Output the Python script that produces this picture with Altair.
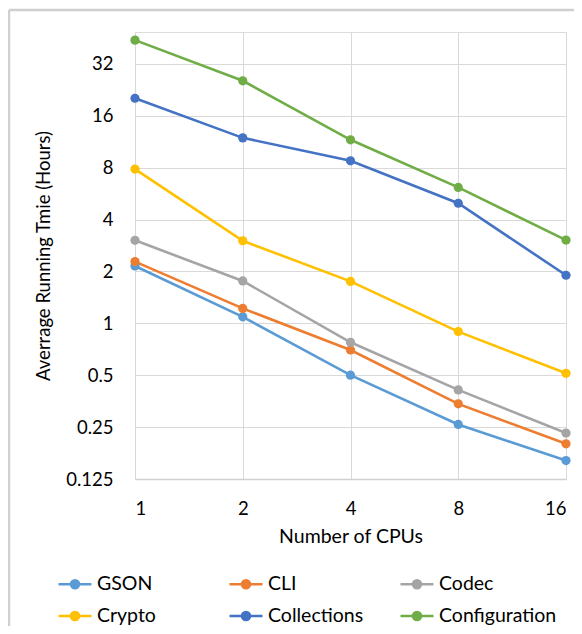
import altair as alt
import pandas as pd

cpus = [1, 2, 4, 8, 16]
series_names = ["GSON", "CLI", "Codec", "Crypto", "Collections", "Configuration"]
gson = [2.15, 1.09, 0.50, 0.259, 0.160]
cli = [2.28, 1.22, 0.70, 0.341, 0.200]
codec = [3.03, 1.76, 0.776, 0.411, 0.231]
crypto = [7.84, 3.01, 1.75, 0.895, 0.513]
collections = [20.2, 11.9, 8.76, 4.97, 1.90]
configuration = [43.9, 25.5, 11.6, 6.14, 3.04]
colors = ["#5B9BD5", "#ED7D31", "#A5A5A5", "#FFC000", "#4472C4", "#70AD47"]
y_ticks = [0.125, 0.25, 0.5, 1, 2, 4, 8, 16, 32]

values = [gson, cli, codec, crypto, collections, configuration]
rows = []
for name, vals in zip(series_names, values):
    for c, v in zip(cpus, vals):
        rows.append({"cpus": c, "hours": v, "series": name})
df = pd.DataFrame(rows)

FONT = "Lato"
W, H = 431, 447
ymax = 2 ** (-3 + 447 / 51.9)

x = alt.X("cpus:Q", scale=alt.Scale(type="log", base=2, domain=[1, 16]),
          axis=alt.Axis(values=cpus, title="Number of CPUs", grid=True,
                        gridColor="#D9D9D9", gridWidth=1, domainColor="#D0D0D0",
                        domainWidth=1.5, ticks=False, labelPadding=20,
                        labelFontSize=18.5, titleFontSize=19.5, titlePadding=10,
                        labelFont=FONT, titleFont=FONT, labelColor="#000000",
                        titleColor="#000000", titleFontWeight="normal",
                        labelExpr="datum.value + ''"))
y = alt.Y("hours:Q", scale=alt.Scale(type="log", base=2, domain=[0.125, ymax]),
          axis=alt.Axis(values=y_ticks, title="Averrage Running Tmie (Hours)",
                        grid=True, gridColor="#D9D9D9", gridWidth=1, domain=False,
                        ticks=False, labelPadding=22, labelFontSize=18.5,
                        titleFontSize=18.5, titlePadding=12, labelFont=FONT,
                        titleFont=FONT, labelColor="#000000", titleColor="#000000",
                        titleFontWeight="normal", labelExpr="datum.value + ''"))
color = alt.Color("series:N", scale=alt.Scale(domain=series_names, range=colors),
                  legend=alt.Legend(
                      title=None, orient="none", legendX=-78, legendY=534,
                      direction="horizontal",
                      columns=3, gridAlign="all", columnPadding=9, rowPadding=4,
                      symbolType="M-1,0L1,0M-0.25,0A0.25,0.25,0,1,0,0.25,0A0.25,0.25,0,1,0,-0.25,0",
                      symbolSize=1089, symbolStrokeWidth=2.4, labelOffset=4,
                      labelFontSize=19.5, labelFont=FONT, labelColor="#000000"))

lines = alt.Chart(df).mark_line(strokeWidth=2.6).encode(x=x, y=y, color=color)
points = alt.Chart(df).mark_circle(size=85, opacity=1).encode(x=x, y=y, color=color)

frame_df = pd.DataFrame({"k": [0]})
top_line = alt.Chart(frame_df).mark_rule(color="#D0D0D0", strokeWidth=2.5, clip=False).encode(
    x=alt.value(-126), x2=alt.value(460), y=alt.value(-22))
left_line = alt.Chart(frame_df).mark_rule(color="#D0D0D0", strokeWidth=2.5, clip=False).encode(
    x=alt.value(-126), y=alt.value(-22), y2=alt.value(620))

chart = alt.layer(top_line, left_line, lines, points).properties(
    width=W, height=H,
    padding={"left": 127, "top": 24, "right": 8, "bottom": 147},
    autosize=alt.AutoSizeParams(type="none"),
).configure_view(stroke=None).configure(background="#FFFFFF")

chart.save("out.html", embed_options={"renderer": "svg", "actions": False})
